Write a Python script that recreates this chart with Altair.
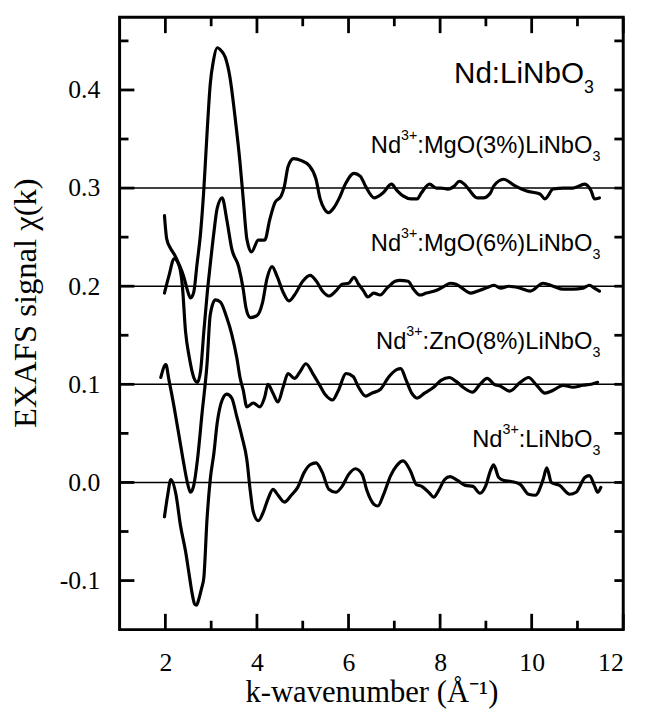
import altair as alt
import pandas as pd

SERIF = "Liberation Serif"
SANS = "Liberation Sans"

# ---------------- data (curves already shifted) ----------------
series_names = ["Nd3+:MgO(3%)LiNbO3", "Nd3+:MgO(6%)LiNbO3", "Nd3+:ZnO(8%)LiNbO3", "Nd3+:LiNbO3"]
offsets = [0.3, 0.2, 0.1, 0.0]

k_a = [1.98, 2.03, 2.12, 2.2, 2.3, 2.4, 2.48, 2.55, 2.62, 2.69, 2.77, 2.84, 2.91, 2.98, 3.05, 3.13,
       3.22, 3.31, 3.41, 3.52, 3.63, 3.70, 3.78, 3.88, 4.03, 4.17, 4.28, 4.39, 4.53, 4.60, 4.68, 4.80,
       4.97, 5.14, 5.29, 5.38, 5.47, 5.56, 5.68, 5.79, 5.94, 6.12, 6.26, 6.37, 6.56, 6.75, 6.94, 7.05,
       7.19, 7.37, 7.50, 7.59, 7.77, 7.92, 8.02, 8.17, 8.31, 8.42, 8.53, 8.62, 8.81, 8.94, 9.10, 9.17,
       9.39, 9.61, 9.89, 10.18, 10.29, 10.47, 10.69, 10.90, 11.16, 11.30, 11.37, 11.48]
chi_a = [0.272, 0.248, 0.238, 0.232, 0.222, 0.210, 0.196, 0.188, 0.194, 0.222, 0.255, 0.299, 0.356, 0.406,
         0.430, 0.443, 0.440, 0.433, 0.413, 0.373, 0.326, 0.289, 0.248, 0.235, 0.247, 0.247, 0.268, 0.285,
         0.292, 0.302, 0.322, 0.330, 0.328, 0.323, 0.309, 0.289, 0.279, 0.275, 0.280, 0.289, 0.305, 0.315,
         0.312, 0.302, 0.290, 0.295, 0.304, 0.298, 0.292, 0.289, 0.289, 0.295, 0.304, 0.300, 0.300, 0.299,
         0.302, 0.307, 0.304, 0.299, 0.290, 0.290, 0.295, 0.302, 0.309, 0.303, 0.297, 0.294, 0.289, 0.299,
         0.300, 0.300, 0.304, 0.297, 0.289, 0.290]

k_b = [1.98, 2.08, 2.19, 2.30, 2.37, 2.44, 2.52, 2.62, 2.70, 2.77, 2.84, 2.91, 2.98, 3.06, 3.13, 3.24,
       3.34, 3.45, 3.60, 3.70, 3.76, 3.85, 4.00, 4.12, 4.22, 4.33, 4.44, 4.58, 4.70, 4.82, 5.00, 5.16,
       5.30, 5.43, 5.57, 5.72, 5.86, 6.00, 6.12, 6.22, 6.33, 6.42, 6.55, 6.69, 6.84, 7.02, 7.12, 7.30,
       7.42, 7.56, 7.70, 7.88, 8.06, 8.22, 8.35, 8.48, 8.67, 8.87, 9.05, 9.18, 9.32, 9.50, 9.75, 9.97,
       10.25, 10.47, 10.69, 10.90, 11.12, 11.26, 11.37, 11.48]
chi_b = [0.193, 0.211, 0.228, 0.221, 0.201, 0.154, 0.128, 0.107, 0.102, 0.114, 0.154, 0.191, 0.222, 0.255,
         0.279, 0.290, 0.268, 0.238, 0.220, 0.197, 0.178, 0.168, 0.170, 0.183, 0.208, 0.220, 0.210, 0.193,
         0.185, 0.191, 0.205, 0.211, 0.205, 0.195, 0.190, 0.195, 0.202, 0.203, 0.209, 0.202, 0.195, 0.189,
         0.193, 0.191, 0.198, 0.205, 0.206, 0.205, 0.197, 0.191, 0.193, 0.195, 0.199, 0.203, 0.202, 0.198,
         0.193, 0.196, 0.199, 0.201, 0.198, 0.200, 0.198, 0.195, 0.203, 0.200, 0.197, 0.197, 0.198, 0.201,
         0.198, 0.195]

k_c = [1.90, 2.01, 2.08, 2.19, 2.30, 2.41, 2.48, 2.55, 2.62, 2.70, 2.80, 2.91, 2.98, 3.09, 3.20, 3.34,
       3.45, 3.56, 3.63, 3.70, 3.78, 3.92, 4.06, 4.17, 4.24, 4.35, 4.46, 4.57, 4.68, 4.82, 4.93, 5.07,
       5.22, 5.36, 5.50, 5.65, 5.77, 5.95, 6.10, 6.22, 6.37, 6.51, 6.70, 6.87, 7.05, 7.14, 7.26, 7.38,
       7.50, 7.66, 7.86, 8.02, 8.20, 8.35, 8.53, 8.71, 8.87, 9.03, 9.18, 9.32, 9.52, 9.75, 9.93, 10.11,
       10.29, 10.47, 10.69, 10.90, 11.12, 11.30, 11.44]
chi_c = [0.107, 0.120, 0.104, 0.077, 0.047, 0.017, 0.000, -0.010, -0.003, 0.023, 0.070, 0.121, 0.171, 0.186,
         0.184, 0.168, 0.151, 0.127, 0.107, 0.094, 0.077, 0.081, 0.077, 0.087, 0.100, 0.091, 0.082, 0.097,
         0.111, 0.106, 0.112, 0.121, 0.111, 0.100, 0.089, 0.084, 0.093, 0.111, 0.108, 0.097, 0.088, 0.091,
         0.095, 0.107, 0.115, 0.116, 0.104, 0.091, 0.086, 0.091, 0.097, 0.104, 0.107, 0.103, 0.096, 0.092,
         0.100, 0.106, 0.100, 0.098, 0.093, 0.102, 0.107, 0.099, 0.091, 0.094, 0.099, 0.097, 0.099, 0.100,
         0.102]

k_d = [1.98, 2.05, 2.12, 2.23, 2.33, 2.44, 2.52, 2.58, 2.64, 2.68, 2.73, 2.79, 2.84, 2.91, 2.98, 3.06,
       3.13, 3.24, 3.34, 3.45, 3.56, 3.67, 3.78, 3.85, 3.92, 4.03, 4.14, 4.24, 4.35, 4.46, 4.60, 4.75,
       4.89, 5.03, 5.16, 5.29, 5.43, 5.57, 5.72, 5.86, 6.00, 6.15, 6.30, 6.40, 6.55, 6.64, 6.76, 6.92,
       7.05, 7.19, 7.35, 7.48, 7.60, 7.77, 7.86, 7.97, 8.10, 8.22, 8.38, 8.55, 8.72, 8.87, 9.00, 9.10,
       9.17, 9.28, 9.40, 9.55, 9.75, 9.93, 10.08, 10.25, 10.33, 10.43, 10.61, 10.83, 10.97, 11.16, 11.26,
       11.37, 11.44, 11.51]
chi_d = [-0.035, -0.013, 0.003, -0.012, -0.044, -0.070, -0.094, -0.112, -0.124, -0.125, -0.119, -0.108,
         -0.097, -0.037, 0.003, 0.030, 0.060, 0.084, 0.090, 0.086, 0.067, 0.047, 0.023, -0.007, -0.030,
         -0.039, -0.030, -0.017, -0.007, -0.013, -0.020, -0.013, -0.005, 0.010, 0.018, 0.020, 0.010, -0.007,
         -0.010, -0.004, 0.008, 0.014, 0.008, -0.008, -0.022, -0.024, -0.013, 0.007, 0.017, 0.022, 0.012,
         -0.002, -0.004, -0.011, -0.015, -0.008, 0.003, 0.006, 0.002, -0.003, -0.004, -0.011, -0.003, 0.012,
         0.018, 0.005, 0.002, 0.001, -0.002, -0.012, -0.013, 0.003, 0.015, 0.000, -0.003, -0.012, -0.010,
         0.005, 0.007, -0.003, -0.010, -0.005]

x_major = [2, 4, 6, 8, 10, 12]
x_minor = [3, 5, 7, 9, 11]
y_major = [-0.1, 0.0, 0.1, 0.2, 0.3, 0.4]
y_minor = [-0.05, 0.05, 0.15, 0.25, 0.35, 0.45]
y_right = [-0.1, -0.05, 0.0, 0.05, 0.1, 0.15, 0.2, 0.25, 0.3, 0.35, 0.4, 0.45]

# ---------------- tables ----------------
rows = []
for name, ks, cs in zip(series_names, [k_a, k_b, k_c, k_d], [chi_a, chi_b, chi_c, chi_d]):
    for k, c in zip(ks, cs):
        rows.append({"series": name, "k": k, "chi": c})
df = pd.DataFrame(rows)

W, H = 510, 620
xs = alt.Scale(domain=[1, 12], nice=False, zero=False)
ys = alt.Scale(domain=[-0.15, 0.474], nice=False, zero=False)
TW = 2.8  # tick stroke width
TC = "black"

label_expr = "datum.value < 0 ? '-' + format(-datum.value, '.1f') : format(datum.value, '.1f')"

AX = alt.Axis(orient="bottom", values=x_major, ticks=False, tickSize=0, domain=False, grid=False,
              labelFont=SERIF, labelFontSize=26, labelColor="black", labelPadding=20,
              title="k-wavenumber (Å⁻¹)", titleFont=SERIF, titleFontSize=31,
              titleFontWeight="normal", titleColor="black", titlePadding=3)
AY = alt.Axis(orient="left", values=y_major, ticks=False, tickSize=0, domain=False, grid=False,
              labelFont=SERIF, labelFontSize=26, labelColor="black", labelPadding=20,
              labelExpr=label_expr, title="EXAFS signal χ(k)", titleFont=SERIF,
              titleFontSize=33, titleFontWeight="normal", titleColor="black", titlePadding=17,
              titleY=289)

lines = alt.Chart(df).mark_line(color="black", strokeWidth=3.2, interpolate="monotone",
                                strokeJoin="round", strokeCap="round").encode(
    x=alt.X("k:Q", scale=xs, axis=AX),
    y=alt.Y("chi:Q", scale=ys, axis=AY),
    detail="series:N",
)


def xticks(vals, y0, y1):
    return alt.Chart(pd.DataFrame({"t": vals})).mark_rule(color=TC, strokeWidth=TW).encode(
        x=alt.X("t:Q", scale=xs, axis=None), y=alt.value(y0), y2=alt.value(y1))


def yticks(vals, x0, x1):
    return alt.Chart(pd.DataFrame({"t": vals})).mark_rule(color=TC, strokeWidth=TW).encode(
        y=alt.Y("t:Q", scale=ys, axis=None), x=alt.value(x0), x2=alt.value(x1))


tick_layers = [
    xticks(x_major, H, H - 16), xticks(x_minor, H, H - 9),
    xticks(x_major, 0, 16), xticks(x_minor, 0, 9),
    yticks(y_major, 0, 15), yticks(y_minor, 0, 9),
    yticks(y_right, W, W - 9),
]

baselines = alt.Chart(pd.DataFrame({"off": offsets})).mark_rule(color="black", strokeWidth=1.6).encode(
    y=alt.Y("off:Q", scale=ys, axis=None),
    x=alt.value(0),
    x2=alt.value(W),
)

# ---------------- labels with super/subscripts ----------------
ARIAL = {"N": 722, "d": 556, "3": 556, "+": 584, ":": 278, "M": 833, "g": 556, "O": 778, "(": 333,
         ")": 333, "%": 889, "6": 556, "8": 556, "L": 556, "i": 222, "b": 556, "Z": 611, "n": 556}


def text_w(s, size):
    return sum(ARIAL.get(ch, 556) for ch in s) / 1000.0 * size


def label_layers(pieces, k_right, y_val, main):
    small = main * 0.6
    spec = {"main": (main, 0), "sup": (small, -main * 0.55), "sub": (small, main * 0.35)}
    total = sum(text_w(t, spec[kind][0]) for t, kind in pieces)
    out, cum = [], 0.0
    src = pd.DataFrame({"lx": [k_right], "ly": [y_val]})
    for t, kind in pieces:
        size, dy = spec[kind]
        out.append(alt.Chart(src).mark_text(
            text=t, align="left", baseline="alphabetic", font=SANS, fontSize=size,
            dx=-total + cum, dy=dy, color="black").encode(
            x=alt.X("lx:Q", scale=xs, axis=None), y=alt.Y("ly:Q", scale=ys, axis=None)))
        cum += text_w(t, size)
    return out


label_pieces = [
    [("Nd", "main"), ("3+", "sup"), (":MgO(3%)LiNbO", "main"), ("3", "sub")],
    [("Nd", "main"), ("3+", "sup"), (":MgO(6%)LiNbO", "main"), ("3", "sub")],
    [("Nd", "main"), ("3+", "sup"), (":ZnO(8%)LiNbO", "main"), ("3", "sub")],
    [("Nd", "main"), ("3+", "sup"), (":LiNbO", "main"), ("3", "sub")],
]
text_layers = []
for pcs, off in zip(label_pieces, offsets):
    text_layers += label_layers(pcs, 11.5, off + 0.036, 24)
text_layers += label_layers([("Nd:LiNbO", "main"), ("3", "sub")], 11.36, 0.407, 30)

chart = alt.layer(lines, baselines, *tick_layers, *text_layers).resolve_axis(
    x="independent", y="independent"
).properties(
    width=W, height=H,
    autosize=alt.AutoSizeParams(type="none"),
    padding={"left": 113, "top": 5, "right": 20, "bottom": 84},
    background="white",
).configure_view(stroke="black", strokeWidth=3)

chart.save("out.html", embed_options={"renderer": "svg", "actions": False})
